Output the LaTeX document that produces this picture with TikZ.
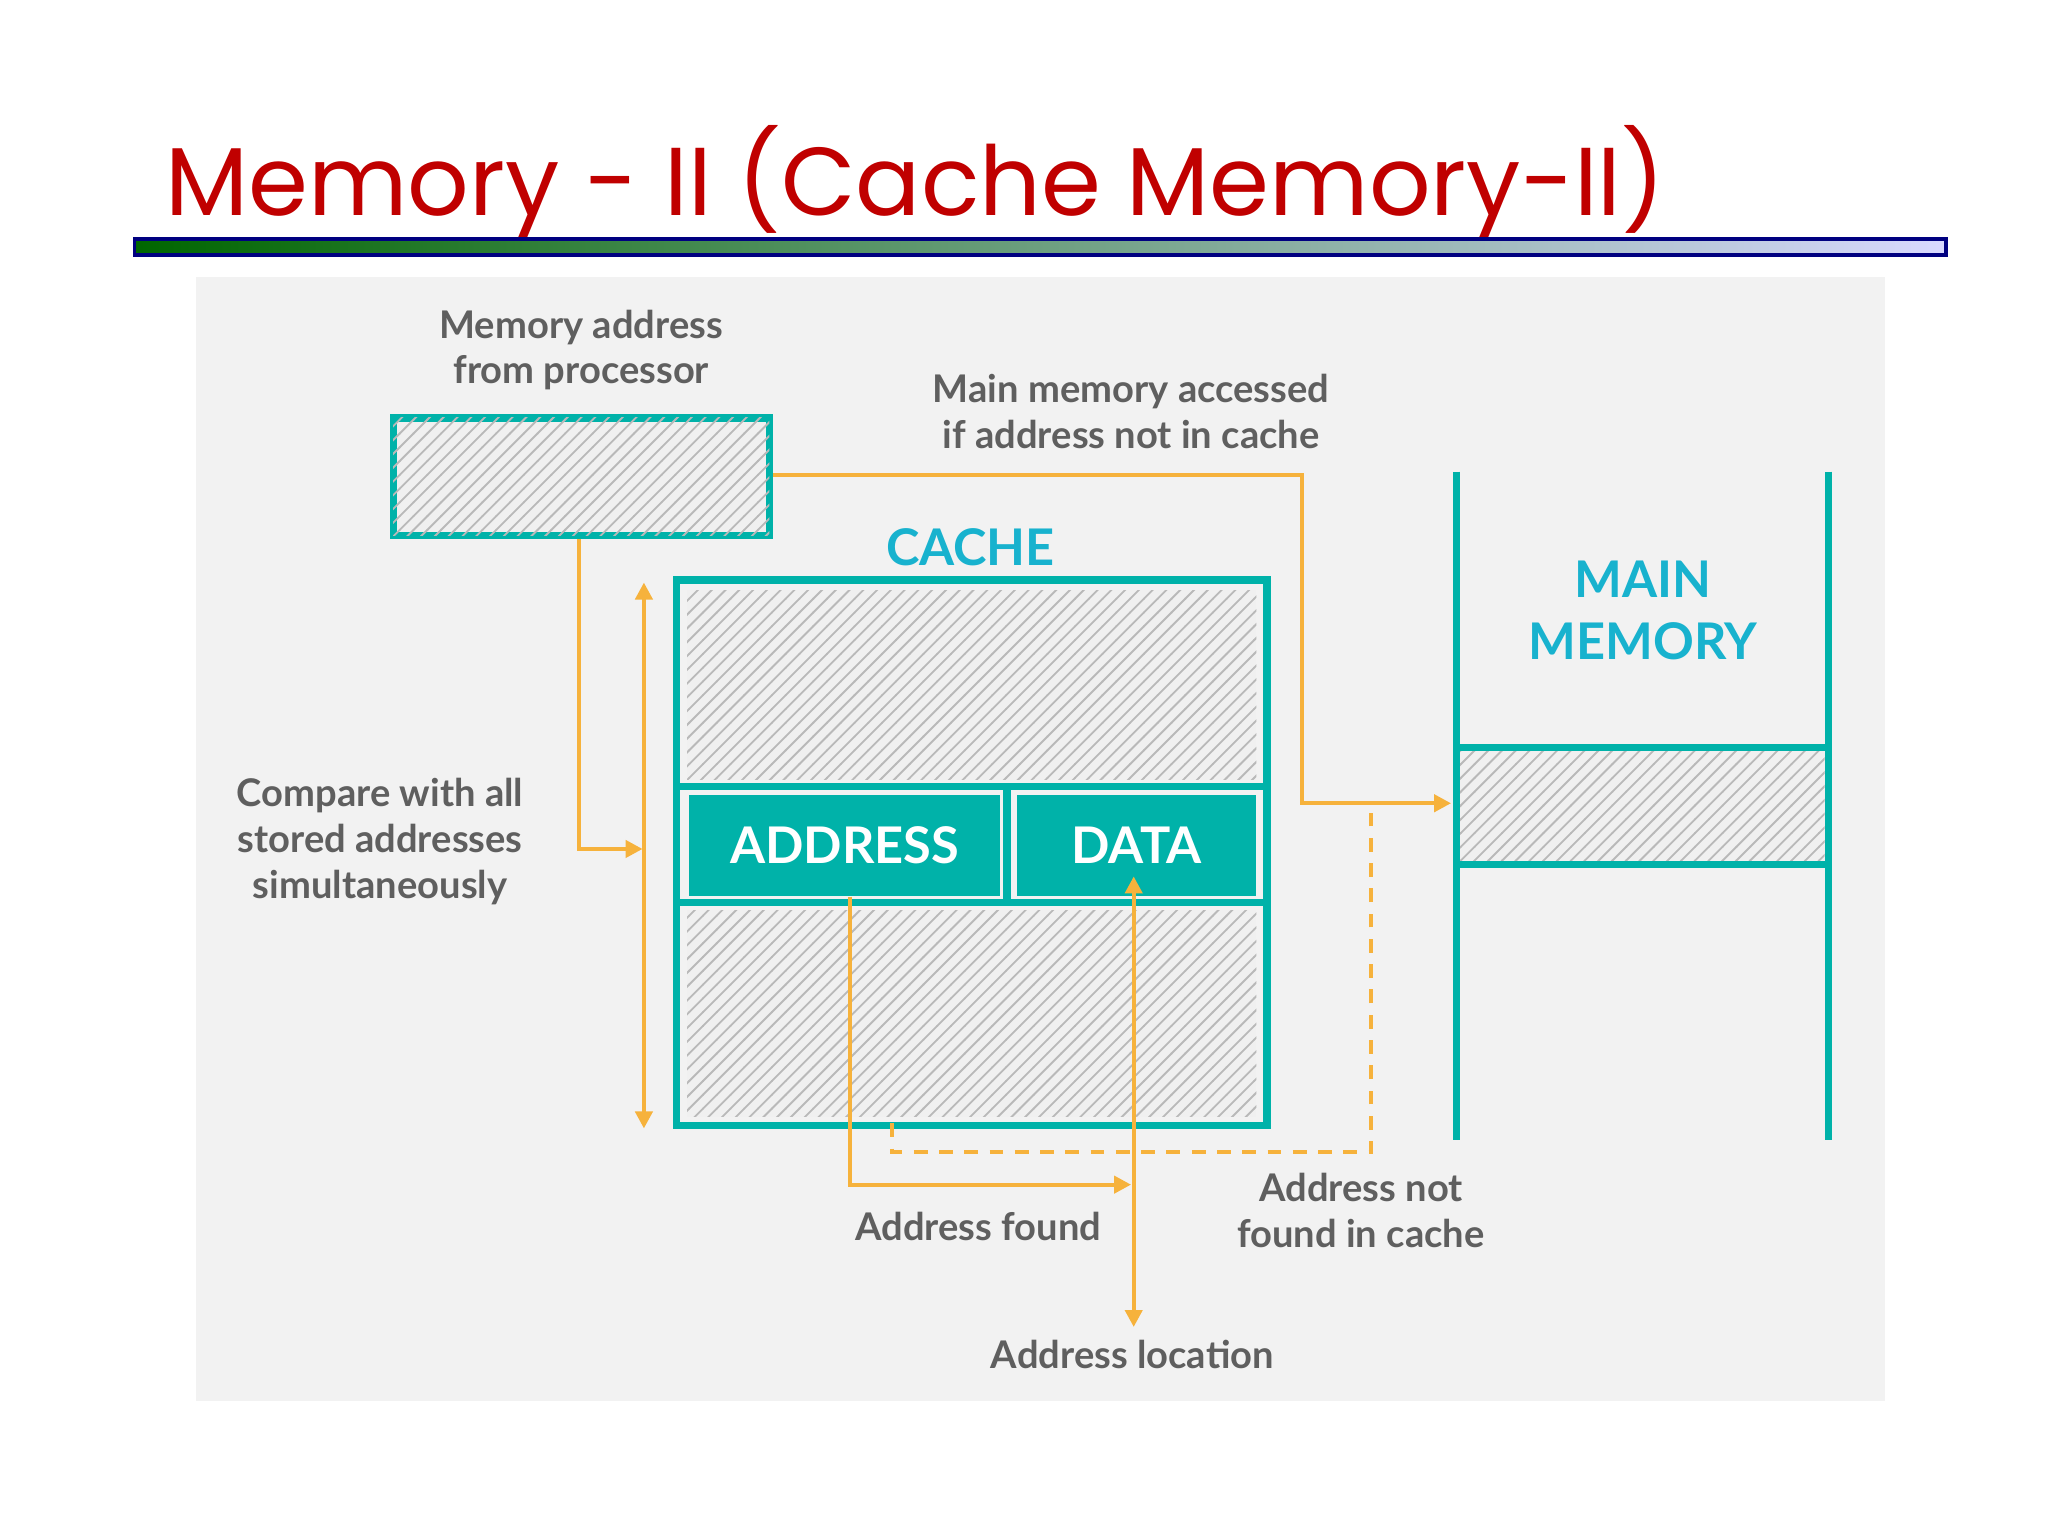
\documentclass[tikz,border=0pt]{standalone}
\usepackage{fontspec}
\setmainfont{Lato}
\newfontfamily\titlefont{Poppins}
\usetikzlibrary{patterns, positioning, arrows.meta}
\definecolor{teal1}{RGB}{0,178,169}
\definecolor{cyan1}{RGB}{24,178,206}
\definecolor{orng}{RGB}{246,178,60}
\definecolor{txtg}{RGB}{95,95,95}
\definecolor{ttlred}{RGB}{192,0,0}
\tikzset{
  hatch/.style={fill=gray!12, postaction={pattern=north east lines, pattern color=gray!55}},
  tline/.style={draw=teal1, line width=0.55mm},
  field/.style={fill=teal1, text=white, font=\bfseries\fontsize{11}{13}\selectfont, inner sep=0pt, anchor=north west},
  lbl/.style={text=txtg, font=\bfseries\fontsize{8.3}{10}\selectfont, align=center},
  flow/.style={draw=orng, line width=0.9pt, >={Triangle[length=1.3mm,width=1.3mm]}, ->},
  flow2/.style={flow, <->}
}
\begin{document}
\begin{tikzpicture}[x=0.01cm, y=-0.01cm]
  \useasboundingbox (0,0) rectangle (1568,1176);
  % title and bar
  \node[anchor=base west, text=ttlred, font=\titlefont\fontsize{21}{26}\selectfont, inner sep=0pt] (title) at (126,165) {Memory - II (Cache Memory-II)};
  \shade[left color=green!40!black, right color=blue!15, draw=blue!50!black, line width=0.8pt] (103,183) rectangle (1490,195);
  % panel
  \fill[gray!10] (150,212) rectangle (1443,1073);
  % processor register
  \coordinate (reg-nw) at (301,320);
  \coordinate (reg-se) at (589,410);
  \draw[tline, hatch] (reg-nw) rectangle (reg-se);
  \node[lbl] (regtxt) at (445,268) {Memory address\\from processor};
  % cache
  \draw[tline] (518,444) rectangle (970,862);
  \fill[hatch] (526,452) rectangle (962,597);
  \fill[hatch] (526,697) rectangle (962,855);
  \draw[tline] (518,602) -- (970,602) (518,691) -- (970,691) (771,602) -- (771,691);
  \node[field, minimum width=2.38cm, minimum height=0.77cm] (addr) at (527,608) {ADDRESS};
  \node[field, minimum width=1.83cm, minimum height=0.77cm] (data) at (778,608) {DATA};
  \node[text=cyan1, font=\bfseries\fontsize{11}{13}\selectfont] (cachetxt) at (743,419) {CACHE};
  % main memory
  \fill[hatch] (1118,575) rectangle (1397,659);
  \draw[tline] (1115,361) -- (1115,873) (1400,361) -- (1400,873)
    (1115,572) -- (1400,572) (1115,662) -- (1400,662);
  \node[text=cyan1, font=\bfseries\fontsize{11}{13.5}\selectfont, align=center] (memtxt) at (1258,467) {MAIN\\MEMORY};
  % labels
  \node[lbl] (misstxt) at (866,315) {Main memory accessed\\if address not in cache};
  \node[lbl] (cmptxt) at (291,644) {Compare with all\\stored addresses\\simultaneously};
  \node[lbl] (foundtxt) at (749,939) {Address found};
  \node[lbl] (nftxt) at (1042,927) {Address not\\found in cache};
  \node[lbl] (loctxt) at (867,1037) {Address location};
  % connectors
  \coordinate (regout) at (592,364);
  \coordinate (regdown) at (443,413);
  \coordinate (cmpend) at (492,650);
  \coordinate (memin) at (1111,615);
  \coordinate (foundend) at (866,907);
  \draw[flow] (regout) -- (997,364) |- (memin);
  \draw[flow] (regdown) |- (cmpend);
  \draw[flow2] (493,446) -- (493,864);
  \draw[flow] (addr.south -| 651,0) |- (foundend);
  \draw[flow2] (868,671) -- (868,1016);
  \draw[orng, line width=0.9pt, dash pattern=on 3pt off 2.5pt] (683,860) |- (1050,882) -- (1050,622);
\end{tikzpicture}
\end{document}
